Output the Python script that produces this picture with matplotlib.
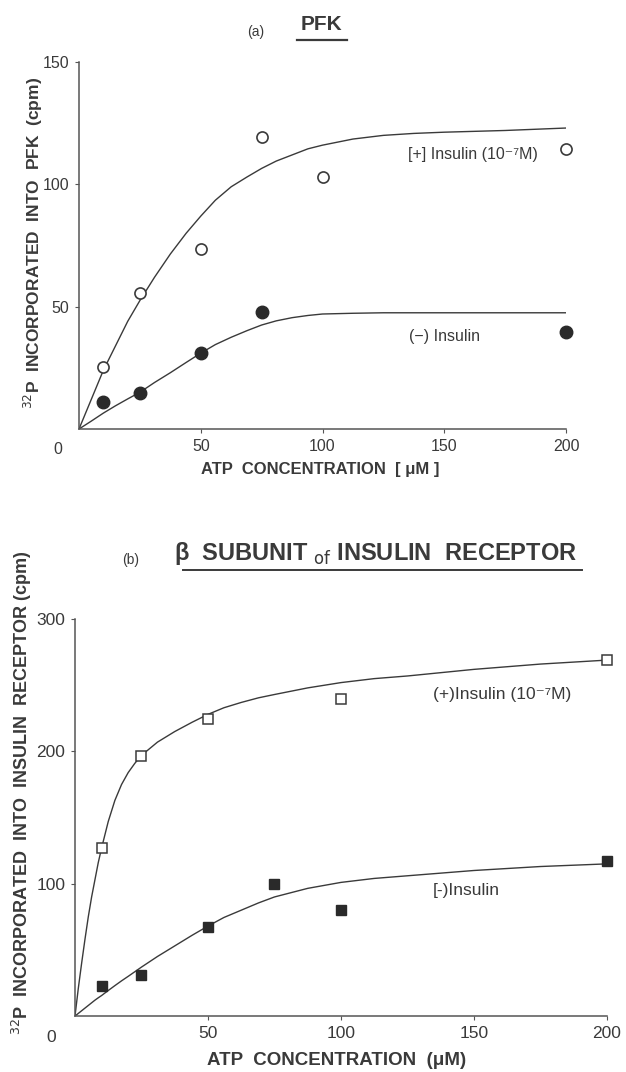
import matplotlib.pyplot as plt
from matplotlib.lines import Line2D

plt.rcParams['font.family'] = ['Liberation Sans', 'DejaVu Sans']

INK = '#3a3a3a'

# (a) PFK - measured points
pfk_x_open = [10, 25, 50, 75, 100, 200]
pfk_plus = [25.4, 55.4, 73.7, 119.3, 103.1, 114.3]
pfk_x_fill = [10, 25, 50, 75, 200]
pfk_minus = [10.9, 14.6, 31.0, 47.9, 39.5]

# (a) fitted curves
pfk_fit_x = [0, 5, 10, 15, 20, 25, 31, 37.5, 44, 50, 56, 62.5, 69, 75, 81, 87.5,
             94, 100, 112.5, 125, 137.5, 150, 175, 200]
pfk_fit_plus = [0, 12, 24, 34, 44, 52.5, 62, 71.5, 80, 87, 93.5, 99, 103, 106.5, 109.5,
                112, 114.5, 116, 118.5, 120, 120.8, 121.3, 122, 123]
pfk_fit_minus = [0, 3.2, 6.5, 9.5, 12.3, 15, 19, 23, 27.2, 31, 34.5, 37.5, 40.2, 42.5,
                 44.2, 45.5, 46.4, 47, 47.3, 47.5, 47.5, 47.5, 47.5, 47.5]

# (b) beta subunit of insulin receptor - measured points
rec_x_open = [10, 25, 50, 100, 200]
rec_plus = [127, 196.5, 224.6, 239.6, 269.4]
rec_x_fill = [10, 25, 50, 75, 100, 200]
rec_minus = [22.7, 31.2, 67.2, 99.8, 80.0, 116.8]

# (b) fitted curves
rec_fit_x = [0, 1.25, 2.5, 3.75, 5, 6.25, 7.5, 8.75, 10, 12.5, 15, 17.5, 20, 22.5, 25,
             31, 37.5, 44, 50, 56, 62.5, 69, 75, 87.5, 100, 112.5, 125, 150, 175, 200]
rec_fit_plus = [0, 21, 40, 58, 75, 90, 103, 116, 127, 147, 163, 175, 184, 191, 197,
                207, 215, 222, 228, 233, 237, 240.5, 243, 248, 252, 255, 257, 262, 266, 269]
rec_fit_minus = [0, 2, 4, 6, 8, 10, 12, 13.8, 15.5, 19.3, 23, 26.6, 30, 33.5, 37,
                 45, 53, 61, 68, 74.5, 80, 85.5, 90, 96.5, 101, 104, 106, 110, 113, 115]

x_ticks = [50, 100, 150, 200]


def style_axes(ax, ymax, yticks, fs):
    ax.set_xlim(0, 200)
    ax.set_ylim(0, ymax)
    for s in ['top', 'right']:
        ax.spines[s].set_visible(False)
    for s in ['left', 'bottom']:
        ax.spines[s].set_color('#555555')
        ax.spines[s].set_linewidth(1.1)
    ax.set_xticks(x_ticks)
    ax.set_yticks(yticks)
    ax.tick_params(length=3, width=0.8, colors='#555555', labelcolor=INK,
                   labelsize=fs, pad=4)
    ax.text(-0.035, -0.035, '0', transform=ax.transAxes, ha='right', va='top',
            fontsize=fs, color=INK)


fig = plt.figure(figsize=(6.26, 10.72), dpi=100)

# ---- panel (a)
ax1 = fig.add_axes([0.1262, 0.5998, 0.778, 0.3424])
ax1.plot(pfk_fit_x, pfk_fit_plus, color=INK, lw=1.0)
ax1.plot(pfk_fit_x, pfk_fit_minus, color=INK, lw=1.0)
ax1.plot(pfk_x_open, pfk_plus, 'o', ms=8, mfc='white', mec=INK, mew=1.2,
         clip_on=False, zorder=3)
ax1.plot(pfk_x_fill, pfk_minus, 'o', ms=9, color='#2a2a2a', clip_on=False, zorder=3)
style_axes(ax1, 150, [50, 100, 150], 11.5)
ax1.text(135, 112, '[+] Insulin (10⁻⁷M)', fontsize=11.5, color=INK, va='center')
ax1.text(135.5, 38, '(−) Insulin', fontsize=11.5, color=INK, va='center')
fig.text(0.511, 0.562, 'ATP  CONCENTRATION  [ μM ]', ha='center', va='center',
         fontsize=12, fontweight='bold', color=INK)
fig.text(0.053, 0.773, '$^{32}$P  INCORPORATED  INTO  PFK  (cpm)', rotation=90,
         ha='center', va='center', fontsize=12.5, fontweight='bold', color=INK)
fig.text(0.408, 0.970, '(a)', ha='center', va='center', fontsize=10, color=INK)
fig.text(0.514, 0.977, 'PFK', ha='center', va='center', fontsize=15,
         fontweight='bold', color=INK)
fig.add_artist(Line2D([297 / 626, 347 / 626], [1 - 40 / 1072, 1 - 40 / 1072],
                      color=INK, lw=1.6))

# ---- panel (b)
ax2 = fig.add_axes([0.1198, 0.0522, 0.8498, 0.3703])
ax2.plot(rec_fit_x, rec_fit_plus, color=INK, lw=1.0)
ax2.plot(rec_fit_x, rec_fit_minus, color=INK, lw=1.0)
ax2.plot(rec_x_open, rec_plus, 's', ms=7, mfc='white', mec=INK, mew=1.1,
         clip_on=False, zorder=3)
ax2.plot(rec_x_fill, rec_minus, 's', ms=7, color='#2a2a2a', clip_on=False, zorder=3)
style_axes(ax2, 300, [100, 200, 300], 12.5)
ax2.text(134.6, 243, '(+)Insulin (10⁻⁷M)', fontsize=12.5, color=INK, va='center')
ax2.text(134.6, 95, '[-)Insulin', fontsize=12.5, color=INK, va='center')
fig.text(0.538, 0.011, 'ATP  CONCENTRATION  (μM)', ha='center', va='center',
         fontsize=13.5, fontweight='bold', color=INK)
fig.text(0.035, 0.261, '$^{32}$P  INCORPORATED  INTO  INSULIN  RECEPTOR (cpm)',
         rotation=90, ha='center', va='center', fontsize=13, fontweight='bold',
         color=INK)
fig.text(0.208, 0.478, '(b)', ha='center', va='center', fontsize=10, color=INK)
fig.text(0.278, 0.484, 'β  SUBUNIT $_{\\mathrm{of}}$ INSULIN  RECEPTOR', ha='left',
         va='center', fontsize=17, fontweight='bold', color=INK)
fig.add_artist(Line2D([183 / 626, 582 / 626], [1 - 570 / 1072, 1 - 570 / 1072],
                      color=INK, lw=1.4))

fig.savefig('out.png', dpi=100)
